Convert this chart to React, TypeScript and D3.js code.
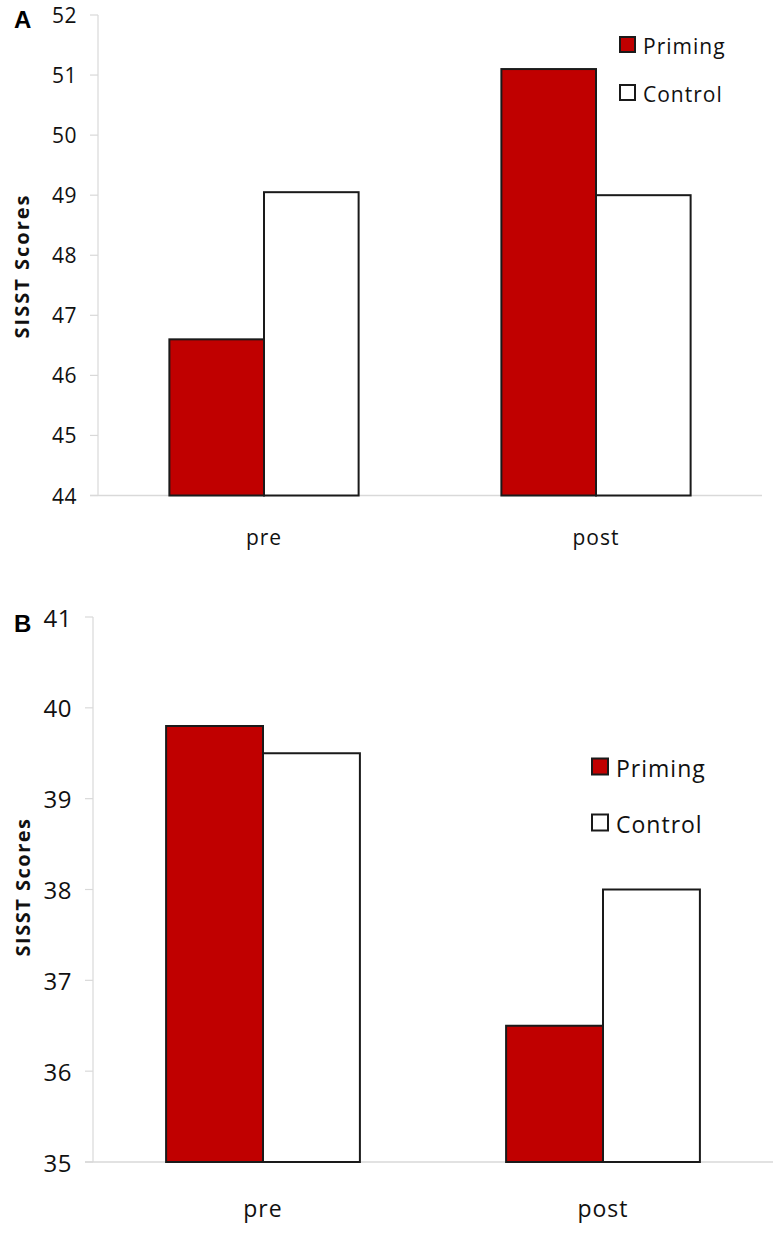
import React from "react";
import * as d3 from "d3";

const categories = ["pre", "post"];
const seriesNames = ["Priming", "Control"];
const seriesColors = ["#c00000", "#ffffff"];

const panelAPriming = [46.6, 51.1];
const panelAControl = [49.05, 49.0];
const panelATicks = [44, 45, 46, 47, 48, 49, 50, 51, 52];

const panelBPriming = [39.8, 36.5];
const panelBControl = [39.5, 38.0];
const panelBTicks = [35, 36, 37, 38, 39, 40, 41];

const FONT = "'Open Sans', Lato, sans-serif";

type PanelProps = {
  letter: string;
  priming: number[];
  control: number[];
  ticks: number[];
  x0: number;
  x1: number;
  yTop: number;
  yBottom: number;
  tickFont: number;
  tickRight: number;
  catFont: number;
  catY: number;
  legendX: number;
  legendY: number;
  legendGap: number;
  legendFont: number;
  legendBox: number;
  titleX: number;
  titleY: number;
  titleFont: number;
  titleSpacing: number;
  letterX: number;
  letterY: number;
};

function Panel(p: PanelProps) {
  const x = d3.scaleBand<string>().domain(categories).range([p.x0, p.x1]).paddingInner(0.43).paddingOuter(0.215);
  const sub = d3.scaleBand<string>().domain(seriesNames).range([0, x.bandwidth()]);
  const y = d3
    .scaleLinear()
    .domain([p.ticks[0], p.ticks[p.ticks.length - 1]])
    .range([p.yBottom, p.yTop]);
  const series = [p.priming, p.control];
  return (
    <g>
      <text x={p.letterX} y={p.letterY} fontFamily="Arial, 'Liberation Sans', sans-serif" fontWeight="bold" fontSize={24} dominantBaseline="central">
        {p.letter}
      </text>
      <line x1={p.x0} x2={p.x0} y1={y(p.ticks[0])} y2={y(p.ticks[p.ticks.length - 1])} stroke="#d9d9d9" strokeWidth={1.2} />
      <line x1={p.x0 - 8} x2={p.x1} y1={y(p.ticks[0])} y2={y(p.ticks[0])} stroke="#d9d9d9" strokeWidth={1.5} />
      {p.ticks.map((t) => (
        <g key={t}>
          <line x1={p.x0 - 8} x2={p.x0} y1={y(t)} y2={y(t)} stroke="#d9d9d9" strokeWidth={1.2} />
          <text x={p.tickRight} y={y(t)} textAnchor="end" dominantBaseline="central" fontFamily={FONT} fontSize={p.tickFont} letterSpacing={0.5} fill="#111">
            {t}
          </text>
        </g>
      ))}
      {categories.map((c, i) => (
        <g key={c}>
          {seriesNames.map((s, j) => {
            const v = series[j][i];
            const bx = (x(c) as number) + (sub(s) as number);
            return (
              <rect
                key={s}
                x={bx}
                y={y(v)}
                width={sub.bandwidth()}
                height={y(p.ticks[0]) - y(v)}
                fill={seriesColors[j]}
                stroke="#1a1a1a"
                strokeWidth={2}
              />
            );
          })}
          <text x={(x(c) as number) + x.bandwidth() / 2} y={p.catY} textAnchor="middle" dominantBaseline="central" fontFamily={FONT} fontSize={p.catFont} letterSpacing={1} fill="#111">
            {c}
          </text>
        </g>
      ))}
      {seriesNames.map((s, j) => (
        <g key={s}>
          <rect
            x={p.legendX}
            y={p.legendY + j * p.legendGap - p.legendBox / 2}
            width={p.legendBox}
            height={p.legendBox}
            fill={seriesColors[j]}
            stroke="#1a1a1a"
            strokeWidth={2}
          />
          <text x={p.legendX + p.legendBox + 8} y={p.legendY + j * p.legendGap + 1} dominantBaseline="central" fontFamily={FONT} fontSize={p.legendFont} letterSpacing={1} fill="#111">
            {s}
          </text>
        </g>
      ))}
      <text
        transform={`translate(${p.titleX},${p.titleY}) rotate(-90)`}
        textAnchor="middle"
        dominantBaseline="central"
        fontFamily={FONT}
        fontWeight="bold"
        fontSize={p.titleFont}
        letterSpacing={p.titleSpacing}
        fill="#111"
      >
        SISST Scores
      </text>
    </g>
  );
}

export default function App() {
  return (
    <svg width={784} height={1233} style={{ position: "absolute", left: 0, top: 0, background: "#fff" }}>
      <rect width={784} height={1233} fill="#fff" />
      <Panel
        letter="A"
        priming={panelAPriming}
        control={panelAControl}
        ticks={panelATicks}
        x0={98}
        x1={762}
        yTop={15}
        yBottom={495.5}
        tickFont={21}
        tickRight={77}
        catFont={21}
        catY={537}
        legendX={620}
        legendY={44.5}
        legendGap={48}
        legendFont={21}
        legendBox={15}
        titleX={21}
        titleY={266}
        titleFont={20}
        titleSpacing={2}
        letterX={14}
        letterY={19}
      />
      <Panel
        letter="B"
        priming={panelBPriming}
        control={panelBControl}
        ticks={panelBTicks}
        x0={93}
        x1={773}
        yTop={617}
        yBottom={1162}
        tickFont={24}
        tickRight={72}
        catFont={23}
        catY={1208}
        legendX={592}
        legendY={766.5}
        legendGap={56}
        legendFont={23}
        legendBox={16}
        titleX={22}
        titleY={887}
        titleFont={20}
        titleSpacing={1.5}
        letterX={14}
        letterY={623}
      />
    </svg>
  );
}
